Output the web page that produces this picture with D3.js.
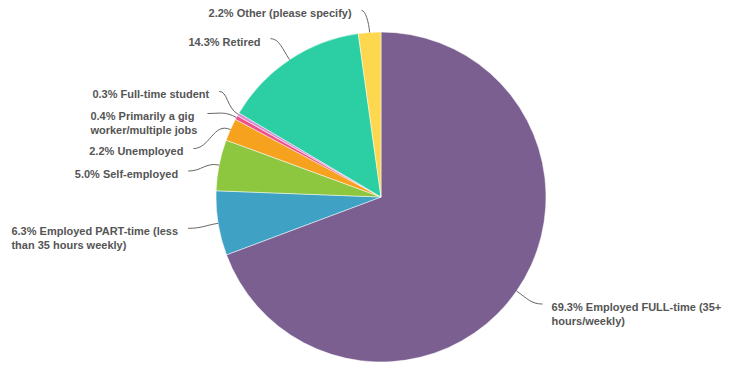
<!DOCTYPE html>
<html>
<head>
<meta charset="utf-8">
<script src="https://cdn.jsdelivr.net/npm/d3@7"></script>
<style>
  html, body { margin: 0; padding: 0; background: #fff; }
  svg { display: block; }
  text { font-family: "Liberation Sans", Arial, sans-serif; font-weight: bold; font-size: 11px; fill: #555; }
</style>
</head>
<body>
<svg id="chart" width="730" height="370"></svg>
<script>
// ---- data ----
const categories = [
  "Employed FULL-time (35+ hours/weekly)",
  "Employed PART-time (less than 35 hours weekly)",
  "Self-employed",
  "Unemployed",
  "Primarily a gig worker/multiple jobs",
  "Full-time student",
  "Retired",
  "Other (please specify)"
];
const values = [69.3, 6.3, 5.0, 2.2, 0.4, 0.3, 14.3, 2.2];
const colors = ["#7B5F90", "#3FA1C4", "#8DC63F", "#F7A21E", "#EE5087", "#D98ED8", "#2BCFA3", "#FDD74E"];

// ---- label layout (offset of leader start from the slice anchor, wrap width) ----
const labelOffsets = [[26, 13], [-30, 5], [-31, 6], [-37, 19], [-29, -4], [-19, -23], [-19, -21], [-8, -22]];
const wrapWidths = [175, 175, 175, 175, 120, 175, 175, 175];

// ---- chart ----
const svg = d3.select("#chart");
const cx = 381, cy = 197, r = 165;
const g = svg.append("g").attr("transform", `translate(${cx},${cy})`);

const data = categories.map((c, i) => ({ name: c, value: values[i], color: colors[i], i }));
const pie = d3.pie().value(d => d.value).sort(null);
const arc = d3.arc().innerRadius(0).outerRadius(r);
const arcs = pie(data);

g.selectAll("path.slice")
  .data(arcs)
  .enter().append("path")
  .attr("class", "slice")
  .attr("d", arc)
  .attr("fill", d => d.data.color)
  .attr("stroke", "#fff")
  .attr("stroke-width", 0.5);

const labels = svg.append("g");
arcs.forEach((a, k) => {
  const mid = (a.startAngle + a.endAngle) / 2;
  const ux = Math.sin(mid), uy = -Math.cos(mid);
  const ax = cx + r * ux, ay = cy + r * uy;
  const [dx, dy] = labelOffsets[k];
  const lx = ax + dx, ly = ay + dy;
  const side = dx < 0 ? -1 : 1;

  // leader: horizontal at label end, radial at the arc
  const path = d3.path();
  path.moveTo(lx, ly);
  const k1 = Math.abs(dx) * 0.45, k2 = Math.hypot(dx, dy) * 0.45;
  path.bezierCurveTo(lx - side * k1, ly, ax + ux * k2, ay + uy * k2, ax, ay);
  labels.append("path").attr("d", path.toString())
    .attr("fill", "none").attr("stroke", "#666").attr("stroke-width", 1);

  // wrapped text
  const text = labels.append("text");
  const words = (a.data.value.toFixed(1) + "% " + a.data.name).split(" ");
  let lines = [], cur = [];
  const probe = labels.append("text");
  words.forEach(w => {
    const test = cur.concat([w]).join(" ");
    probe.text(test);
    if (cur.length && probe.node().getComputedTextLength() > wrapWidths[k]) {
      lines.push(cur.join(" "));
      cur = [w];
    } else cur.push(w);
  });
  lines.push(cur.join(" "));
  let maxW = 0;
  lines.forEach(l => { probe.text(l); maxW = Math.max(maxW, probe.node().getComputedTextLength()); });
  probe.remove();

  const tx = side < 0 ? lx - 10 - maxW : lx + 9;
  lines.forEach((l, j) => {
    text.append("tspan").attr("x", tx).attr("y", ly + 3 + j * 14)
      .attr("dy", "0.35em").text(l);
  });
});
</script>
</body>
</html>
